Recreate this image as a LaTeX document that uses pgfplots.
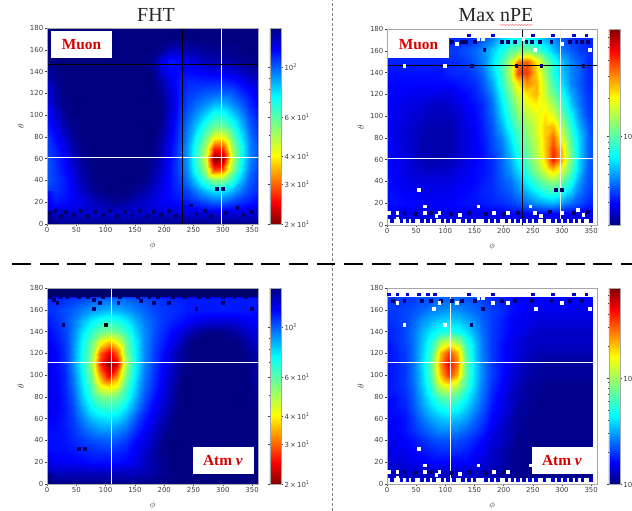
\documentclass[border=0pt]{standalone}
\usepackage{fontspec}
\setmainfont{DejaVu Sans}
\newfontfamily\tm{Liberation Serif}
\usepackage{pgfplots}
\pgfplotsset{compat=1.18}
\usetikzlibrary{decorations.pathmorphing}
\definecolor{jd}{rgb}{0,0,0.42}
\definecolor{jb}{rgb}{0,0,0.85}
\definecolor{tickc}{gray}{0.25}
\def\XE{mod(\coordindex,25)*15}
\def\YE{(18-floor(\coordindex/25))*10}
\pgfplotsset{
 colormap={jet}{rgb255(0cm)=(0,0,128); rgb255(11cm)=(0,0,255); rgb255(35cm)=(0,255,255); rgb255(65cm)=(255,255,0); rgb255(89cm)=(255,0,0); rgb255(100cm)=(128,0,0)},
 colormap={jetr}{rgb255(0cm)=(128,0,0); rgb255(11cm)=(255,0,0); rgb255(35cm)=(255,255,0); rgb255(65cm)=(0,255,255); rgb255(89cm)=(0,0,255); rgb255(100cm)=(0,0,128)},
 pan/.style={scale only axis,width=211bp,height=196bp,xmin=0,xmax=360,ymin=0,ymax=180,
  xtick={0,50,...,350},ytick={0,20,...,180},tick align=outside,tick pos=left,
  major tick length=2bp,axis on top,axis line style={gray!70,line width=0.7bp},
  tick style={tickc,line width=0.4bp},
  /pgf/number format/assume math mode=true,
  ticklabel style={font=\fontsize{7}{8}\selectfont,text=tickc,inner sep=1.5pt},
  xlabel={$\phi$},ylabel={$\theta$},label style={font=\fontsize{9}{10}\selectfont,text=tickc},
  xlabel style={yshift=-3pt},ylabel style={yshift=1pt},
  enlargelimits=false,clip=true},
 hm/.style={surf,shader=interp,mesh/cols=25,mesh/ordering=x varies,point meta={log10(\thisrowno{0})}},
 cell/.style={only marks,mark=square*,mark size=1.4bp,color=#1,mark options={solid,line width=0pt}},
 cb/.style={at={(1.056,0)},anchor=south west,width=11bp,scale only axis,tick align=outside,
  major tick length=2bp,minor tick length=1.2bp,axis line style={gray!70,line width=0.5bp},
  tick style={tickc,line width=0.3bp},
  yticklabel style={font=\fontsize{7}{8}\selectfont,text=tickc,inner sep=1.5pt}},
 cbF/.style={colormap name=jetr,point meta min=1.30103,point meta max=2.17609,colorbar,
  colorbar style={cb,ytick={1.30103,1.47712,1.60206,1.77815,2},
   yticklabels={2\,×\,10\textsuperscript{1},3\,×\,10\textsuperscript{1},4\,×\,10\textsuperscript{1},6\,×\,10\textsuperscript{1},10\textsuperscript{2}},
   minor ytick={1.69897,1.8451,1.90309,1.95424}}},
 cbN/.style={colormap name=jet,point meta min=#1,point meta max=1.845,colorbar,
  colorbar style={cb,ytick={0,1},yticklabels={10\textsuperscript{0},10\textsuperscript{1}},
   minor ytick={0.30103,0.47712,0.60206,0.69897,0.77815,0.8451,0.90309,0.95424,1.30103,1.47712,1.60206,1.69897,1.77815}}},
}
\begin{document}
\begin{tikzpicture}[x=1bp,y=1bp]
\path[use as bounding box] (0,0) rectangle (632,511);
\begin{axis}[pan,cbF,at={(47bp,287bp)},anchor=south west]
\addplot[hm] table[row sep=crcr,header=false,x expr=\XE,y expr=\YE]{
150\\150\\150\\150\\150\\150\\150\\150\\150\\150\\150\\150\\150\\150\\150\\150\\150\\150\\150\\150\\150\\150\\150\\150\\150\\
150\\150\\150\\150\\150\\150\\150\\150\\150\\150\\150\\150\\150\\150\\150\\150\\150\\150\\150\\150\\150\\150\\150\\150\\150\\
150\\150\\150\\150\\150\\150\\150\\150\\150\\150\\150\\150\\150\\145\\135\\135\\140\\142\\145\\146\\146\\148\\150\\150\\150\\
150\\150\\150\\150\\150\\150\\150\\150\\150\\150\\150\\150\\145\\125\\115\\118\\125\\130\\135\\138\\140\\142\\145\\148\\148\\
140\\148\\150\\150\\150\\150\\150\\150\\150\\150\\150\\150\\148\\130\\120\\118\\118\\120\\122\\125\\125\\128\\132\\138\\140\\
135\\145\\150\\150\\150\\150\\150\\150\\150\\150\\150\\150\\150\\140\\125\\115\\112\\112\\112\\112\\112\\115\\120\\128\\130\\
130\\142\\150\\150\\150\\150\\150\\150\\150\\150\\150\\150\\150\\145\\130\\115\\108\\105\\102\\100\\100\\102\\110\\118\\125\\
125\\140\\148\\150\\150\\150\\150\\150\\150\\150\\150\\150\\150\\148\\132\\115\\105\\98\\92\\85\\85\\92\\100\\112\\120\\
120\\132\\145\\150\\150\\150\\150\\150\\150\\150\\150\\150\\150\\148\\130\\112\\100\\90\\80\\70\\70\\80\\90\\105\\115\\
115\\125\\140\\148\\150\\150\\150\\150\\150\\150\\150\\150\\150\\145\\128\\110\\95\\82\\68\\58\\58\\68\\82\\100\\112\\
110\\120\\132\\145\\150\\150\\150\\150\\150\\150\\150\\150\\150\\142\\125\\108\\92\\74\\58\\42\\42\\58\\74\\95\\108\\
108\\115\\125\\140\\148\\150\\150\\150\\150\\150\\150\\150\\148\\138\\122\\105\\88\\68\\50\\27\\28\\50\\68\\92\\105\\
105\\112\\120\\135\\145\\150\\150\\150\\150\\150\\150\\150\\145\\135\\120\\105\\88\\66\\46\\20\\21\\46\\68\\92\\105\\
102\\110\\118\\128\\142\\148\\150\\150\\150\\150\\150\\150\\142\\132\\118\\105\\90\\70\\52\\28\\30\\52\\72\\95\\108\\
102\\108\\115\\125\\138\\148\\150\\150\\150\\150\\150\\148\\138\\128\\118\\108\\95\\80\\65\\54\\54\\66\\82\\100\\110\\
108\\110\\115\\122\\132\\142\\148\\150\\150\\150\\145\\140\\132\\125\\118\\112\\105\\95\\85\\78\\78\\85\\95\\105\\112\\
118\\115\\118\\122\\125\\132\\138\\142\\145\\142\\135\\132\\128\\122\\120\\118\\115\\110\\105\\100\\100\\105\\110\\115\\118\\
130\\130\\130\\130\\130\\130\\130\\130\\130\\130\\130\\130\\130\\130\\130\\128\\128\\128\\128\\128\\128\\128\\128\\128\\128\\
148\\148\\148\\148\\148\\148\\148\\148\\148\\148\\148\\148\\148\\148\\148\\148\\148\\148\\148\\148\\148\\148\\148\\148\\148\\
148\\148\\148\\148\\148\\148\\148\\148\\148\\148\\148\\148\\148\\148\\148\\148\\148\\148\\148\\148\\148\\148\\148\\148\\148\\
};
\addplot[cell=jd] coordinates {(5,10)(14,12)(24,7)(33,11)(46,8)(58,12)(70,7)(82,11)(95,8)(108,12)(120,7)(134,11)(146,8)(158,12)(170,7)(182,11)(195,8)(208,12)(220,7)(245,17)(255,9)(270,12)(280,7)(290,32)(300,32)(305,10)(325,15)(335,8)(350,11)};
\addplot[white,line width=1bp] coordinates {(297,0)(297,180)};
\addplot[white,line width=1bp] coordinates {(0,61.5)(360,61.5)};
\addplot[black,line width=1bp] coordinates {(232,0)(232,180)};
\addplot[black,line width=1bp] coordinates {(0,146.5)(360,146.5)};
\end{axis}
\begin{axis}[pan,cbN=0.30103,at={(387bp,286bp)},anchor=south west,width=210bp]
\addplot[hm] table[row sep=crcr,header=false,x expr=\XE,y expr=\YE]{
3.4\\3.4\\3.4\\3.4\\3.4\\3.4\\3.4\\3.4\\3.4\\3.4\\3.6\\4\\4.6\\6\\7\\7.5\\7.5\\6.5\\5.5\\4.8\\4\\3.5\\3.4\\3.3\\3.3\\
3.4\\3.4\\3.4\\3.4\\3.4\\3.4\\3.4\\3.4\\3.4\\3.4\\3.6\\4\\4.6\\6\\7\\7.5\\7.5\\6.5\\5.5\\4.8\\4\\3.5\\3.4\\3.3\\3.3\\
3.4\\3.4\\3.4\\3.4\\3.4\\3.4\\3.4\\3.6\\3.6\\3.9\\4.2\\4.8\\5.8\\7.5\\10\\12\\12\\10\\7.5\\5.8\\4.6\\4\\3.6\\3.4\\3.4\\
3.3\\3.3\\3.3\\3.3\\3.3\\3.3\\3.3\\3.4\\3.4\\3.6\\4\\4.6\\6.3\\9\\15\\32\\35\\22\\12\\8\\5.8\\4.6\\4\\3.4\\3.4\\
3.1\\3.1\\3.1\\3.1\\3.1\\3.1\\3.1\\3.3\\3.4\\3.4\\3.7\\4.3\\5.8\\8.5\\15\\38\\40\\24\\13\\8\\5.8\\4.6\\4\\3.4\\3.4\\
3\\3\\3\\3\\3\\3\\3\\3\\3.1\\3.3\\3.4\\4\\5.2\\8\\13\\22\\30\\26\\15\\9\\6.3\\4.6\\3.9\\3.4\\3.4\\
2.9\\2.9\\2.9\\2.8\\2.8\\2.8\\2.7\\2.7\\2.9\\3\\3.3\\3.7\\4.6\\7\\11\\17\\22\\26\\16\\11\\7.5\\5.2\\4.1\\3.5\\3.4\\
2.9\\2.8\\2.7\\2.7\\2.6\\2.5\\2.5\\2.5\\2.7\\2.9\\3.1\\3.4\\4.3\\6.3\\9.5\\14\\18\\21\\19\\14\\9\\5.8\\4.3\\3.6\\3.4\\
2.9\\2.8\\2.7\\2.6\\2.5\\2.4\\2.4\\2.4\\2.5\\2.8\\3\\3.4\\4.1\\5.8\\8.5\\12\\15\\18\\22\\18\\11\\7\\4.6\\3.7\\3.4\\
2.9\\2.7\\2.6\\2.5\\2.4\\2.3\\2.3\\2.3\\2.5\\2.7\\2.9\\3.3\\3.9\\5.2\\7.5\\10\\13\\17\\24\\26\\14\\8\\5.2\\4\\3.4\\
2.9\\2.7\\2.6\\2.5\\2.3\\2.3\\2.3\\2.3\\2.5\\2.7\\2.9\\3.2\\3.8\\4.6\\6.3\\9\\12\\16\\24\\34\\18\\9\\5.8\\4.1\\3.6\\
3\\2.8\\2.6\\2.5\\2.3\\2.3\\2.3\\2.3\\2.5\\2.7\\2.9\\3.1\\3.7\\4.3\\5.8\\8\\11\\15\\24\\40\\24\\10\\5.8\\4.1\\3.6\\
3\\2.8\\2.7\\2.5\\2.4\\2.3\\2.3\\2.4\\2.5\\2.7\\2.9\\3.1\\3.4\\4.1\\5.2\\7\\10\\14\\23\\44\\26\\11\\5.8\\4.1\\3.6\\
3\\2.9\\2.7\\2.6\\2.5\\2.5\\2.5\\2.5\\2.7\\2.8\\3\\3.1\\3.4\\4\\4.8\\6.1\\8.5\\12\\17\\23\\17\\9.5\\5.5\\4\\3.6\\
3.1\\2.9\\2.8\\2.7\\2.7\\2.7\\2.7\\2.7\\2.8\\2.9\\3\\3.2\\3.4\\3.9\\4.3\\5.2\\7\\9\\11.5\\13\\11\\7.5\\4.8\\3.9\\3.6\\
3.1\\3\\2.9\\2.9\\2.8\\2.8\\2.8\\2.8\\2.9\\3\\3.1\\3.3\\3.4\\3.7\\4\\4.6\\5.5\\6.6\\8\\8.5\\7.5\\5.8\\4.3\\3.7\\3.4\\
3.1\\3.1\\3\\3\\2.9\\2.9\\2.9\\2.9\\3\\3.1\\3.1\\3.2\\3.3\\3.4\\3.6\\3.9\\4.3\\4.8\\5.2\\5.5\\5\\4.3\\3.8\\3.4\\3.3\\
2.8\\2.8\\2.8\\2.8\\2.8\\2.8\\2.8\\2.8\\2.8\\2.8\\2.8\\2.8\\2.8\\2.8\\2.9\\2.9\\2.9\\2.9\\2.9\\2.9\\2.9\\2.9\\2.8\\2.8\\2.8\\
2.7\\2.7\\2.7\\2.7\\2.7\\2.7\\2.7\\2.7\\2.7\\2.7\\2.7\\2.7\\2.7\\2.7\\2.7\\2.7\\2.7\\2.7\\2.7\\2.7\\2.7\\2.7\\2.7\\2.7\\2.7\\
2.7\\2.7\\2.7\\2.7\\2.7\\2.7\\2.7\\2.7\\2.7\\2.7\\2.7\\2.7\\2.7\\2.7\\2.7\\2.7\\2.7\\2.7\\2.7\\2.7\\2.7\\2.7\\2.7\\2.7\\2.7\\
};
\addplot[fill=white,draw=none] coordinates {(0,172)(360,172)(360,180)(0,180)} --cycle;
\addplot[fill=white,draw=none] coordinates {(0,0)(360,0)(360,5.5)(0,5.5)} --cycle;
\addplot[fill=white,draw=none] coordinates {(353,0)(360,0)(360,180)(353,180)} --cycle;
\addplot[cell=jb] coordinates {(8,4)(25,4)(35,4)(45,4)(60,4)(70,4)(80,4)(95,4)(105,4)(115,4)(130,4)(140,4)(150,4)(170,4)(180,4)(190,4)(205,4)(215,4)(225,4)(235,4)(245,4)(255,4)(270,4)(285,4)(295,4)(305,4)(315,4)(325,4)(335,4)(350,4)(140,174)(182,174)(250,174)(285,174)(320,174)(342,174)};
\addplot[cell=jd] coordinates {(111,168)(128,168)(136,168)(151,168)(197,168)(208,168)(219,168)(239,168)(248,168)(262,168)(282,168)(314,168)(325,168)(334,168)(345,168)(167,161)(290,32)(300,32)(146,146)(222,146)(265,146)(337,146)(30,11)(50,10)(75,11)(110,10)(140,11)(170,10)(200,10)(225,11)(255,10)(280,12)(320,11)(345,12)};
\addplot[cell=white] coordinates {(30,146)(100,146)(55,32)(65,17)(65,11)(3,11)(18,11)(18,6)(90,11)(85,8)(125,9)(157,17)(183,11)(208,11)(246,17)(254,11)(264,8)(300,11)(327,14)(337,9)(120,166)(157,171)(165,171)(234,171)(254,161)(300,166)(348,161)};
\addplot[white!90!gray,line width=1bp] coordinates {(297,0)(297,180)};
\addplot[white,line width=1bp] coordinates {(0,61.5)(360,61.5)};
\addplot[black,line width=1bp] coordinates {(232,0)(232,180)};
\addplot[black,line width=1bp] coordinates {(0,146.5)(360,146.5)};
\end{axis}
\begin{axis}[pan,cbF,at={(47bp,27bp)},anchor=south west]
\addplot[hm] table[row sep=crcr,header=false,x expr=\XE,y expr=\YE]{
150\\150\\150\\150\\150\\150\\150\\150\\150\\150\\150\\150\\150\\150\\150\\150\\150\\150\\150\\150\\150\\150\\150\\150\\150\\
112\\112\\110\\108\\105\\102\\100\\98\\98\\100\\102\\105\\108\\110\\112\\114\\115\\115\\115\\115\\115\\115\\115\\115\\115\\
110\\108\\104\\100\\95\\90\\87\\85\\86\\90\\95\\100\\105\\108\\110\\112\\115\\115\\115\\115\\115\\115\\115\\115\\118\\
115\\110\\104\\96\\85\\76\\70\\68\\70\\76\\86\\95\\102\\108\\112\\116\\120\\125\\128\\128\\128\\128\\125\\122\\120\\
120\\114\\106\\94\\78\\66\\58\\55\\58\\66\\80\\92\\102\\110\\118\\125\\135\\142\\148\\148\\148\\145\\138\\130\\125\\
122\\116\\108\\92\\74\\58\\42\\36\\42\\58\\76\\92\\104\\112\\122\\132\\145\\150\\150\\150\\150\\150\\148\\138\\130\\
125\\120\\110\\92\\72\\55\\30\\24\\30\\55\\74\\92\\106\\116\\128\\140\\148\\150\\150\\150\\150\\150\\150\\145\\135\\
125\\120\\110\\92\\72\\52\\27\\20\\24\\50\\74\\92\\106\\118\\130\\142\\150\\150\\150\\150\\150\\150\\150\\148\\138\\
125\\120\\112\\95\\75\\56\\33\\24\\32\\55\\76\\95\\108\\120\\132\\145\\150\\150\\150\\150\\150\\150\\150\\148\\140\\
125\\122\\112\\98\\78\\62\\42\\38\\42\\62\\80\\98\\110\\122\\135\\148\\150\\150\\150\\150\\150\\150\\150\\150\\142\\
125\\122\\114\\102\\82\\68\\57\\55\\58\\68\\85\\102\\115\\125\\138\\150\\150\\150\\150\\150\\150\\150\\150\\150\\145\\
125\\122\\115\\105\\88\\75\\68\\66\\68\\78\\92\\108\\120\\130\\140\\150\\150\\150\\150\\150\\150\\150\\150\\150\\148\\
122\\120\\115\\108\\95\\85\\80\\78\\80\\88\\102\\115\\125\\135\\145\\150\\150\\150\\150\\150\\150\\150\\150\\150\\150\\
120\\118\\115\\110\\102\\95\\90\\90\\92\\98\\110\\120\\130\\140\\148\\150\\150\\150\\150\\150\\150\\150\\150\\150\\150\\
118\\118\\116\\112\\108\\104\\102\\100\\102\\108\\118\\125\\135\\145\\150\\150\\150\\150\\150\\150\\150\\150\\150\\150\\150\\
118\\118\\118\\116\\114\\112\\110\\110\\112\\115\\122\\130\\140\\148\\150\\150\\150\\150\\150\\150\\150\\150\\150\\150\\150\\
122\\122\\122\\122\\120\\118\\118\\118\\118\\120\\125\\132\\140\\145\\150\\150\\150\\150\\150\\150\\150\\150\\150\\150\\150\\
135\\135\\135\\135\\135\\135\\135\\135\\135\\135\\135\\138\\140\\145\\148\\150\\150\\150\\150\\150\\150\\150\\150\\150\\150\\
148\\148\\148\\148\\148\\148\\148\\148\\148\\148\\148\\148\\148\\148\\150\\150\\150\\150\\150\\150\\150\\150\\150\\150\\150\\
148\\148\\148\\148\\148\\148\\148\\148\\148\\148\\148\\148\\148\\148\\150\\150\\150\\150\\150\\150\\150\\150\\150\\150\\150\\
};
\addplot[fill=jd,draw=none] coordinates {(0,172)(360,172)(360,180)(0,180)} --cycle;
\addplot[cell=jd] coordinates {(5,172)(12,169)(18,166)(23,172)(35,172)(55,172)(70,172)(80,169)(90,166)(95,172)(125,172)(122,166)(160,168)(155,172)(183,166)(175,172)(190,172)(208,166)(215,172)(235,172)(260,172)(275,172)(300,166)(300,172)(320,172)(340,172)(80,161)(55,32)(65,32)(255,161)(350,161)(28,146)};
\addplot[cell=black] coordinates {(100,146)};
\addplot[white,line width=1bp] coordinates {(110,0)(110,180)};
\addplot[white,line width=1bp] coordinates {(0,111.5)(360,111.5)};
\end{axis}
\begin{axis}[pan,cbN=0,at={(387bp,27bp)},anchor=south west,width=210bp]
\addplot[hm] table[row sep=crcr,header=false,x expr=\XE,y expr=\YE]{
2\\2\\2\\2\\2.2\\2.2\\2.4\\2.4\\2.4\\2.2\\2.2\\2\\1.9\\1.8\\1.7\\1.6\\1.6\\1.6\\1.6\\1.6\\1.6\\1.6\\1.6\\1.6\\1.6\\
2\\2\\2\\2\\2.2\\2.2\\2.4\\2.4\\2.4\\2.2\\2.2\\2\\1.9\\1.8\\1.7\\1.6\\1.6\\1.6\\1.6\\1.6\\1.6\\1.6\\1.6\\1.6\\1.6\\
2\\2\\2.1\\2.2\\2.4\\2.7\\2.8\\2.9\\2.8\\2.6\\2.4\\2.2\\2\\1.9\\1.7\\1.6\\1.5\\1.5\\1.5\\1.5\\1.5\\1.5\\1.5\\1.5\\1.5\\
1.9\\2\\2.1\\2.4\\2.9\\3.3\\3.7\\3.8\\3.6\\3.2\\2.7\\2.3\\2\\1.8\\1.6\\1.5\\1.5\\1.4\\1.4\\1.4\\1.4\\1.4\\1.4\\1.4\\1.4\\
1.8\\1.9\\2.1\\2.5\\3.3\\4.2\\5\\5.2\\4.8\\4\\3.1\\2.4\\2\\1.8\\1.6\\1.5\\1.4\\1.3\\1.3\\1.3\\1.3\\1.3\\1.3\\1.3\\1.3\\
1.8\\1.9\\2.1\\2.5\\3.5\\5.2\\10\\13\\10\\5.2\\3.5\\2.5\\2\\1.7\\1.5\\1.4\\1.3\\1.3\\1.3\\1.3\\1.3\\1.3\\1.3\\1.3\\1.3\\
1.7\\1.8\\2\\2.5\\3.6\\6\\20\\34\\22\\6.5\\3.6\\2.5\\2\\1.7\\1.5\\1.4\\1.3\\1.2\\1.2\\1.2\\1.2\\1.2\\1.2\\1.2\\1.2\\
1.7\\1.8\\2\\2.5\\3.8\\7\\24\\45\\28\\7\\3.8\\2.6\\2\\1.7\\1.5\\1.3\\1.2\\1.15\\1.1\\1.1\\1.1\\1.1\\1.1\\1.1\\1.1\\
1.7\\1.8\\2\\2.5\\3.7\\6.5\\20\\36\\22\\7\\3.8\\2.6\\2\\1.7\\1.4\\1.3\\1.2\\1.1\\1.1\\1.1\\1.1\\1.1\\1.1\\1.1\\1.1\\
1.7\\1.8\\2\\2.4\\3.5\\5.5\\12\\15\\11\\6\\3.6\\2.5\\1.9\\1.6\\1.4\\1.2\\1.1\\1.1\\1.05\\1.05\\1.05\\1.05\\1.05\\1.05\\1.05\\
1.7\\1.7\\1.9\\2.3\\3.2\\4.5\\6.5\\7.5\\6.5\\4.5\\3.2\\2.4\\1.8\\1.5\\1.3\\1.2\\1.1\\1.05\\1.05\\1.05\\1.05\\1.05\\1.05\\1.05\\1.05\\
1.6\\1.7\\1.8\\2.2\\2.9\\3.7\\4.5\\5\\4.5\\3.7\\2.8\\2.2\\1.7\\1.5\\1.3\\1.1\\1.1\\1.05\\1.05\\1.05\\1.05\\1.05\\1.05\\1.05\\1.05\\
1.6\\1.6\\1.7\\2\\2.5\\3\\3.4\\3.6\\3.4\\3\\2.4\\2\\1.6\\1.4\\1.2\\1.1\\1.05\\1.05\\1.05\\1.05\\1.05\\1.05\\1.05\\1.05\\1.05\\
1.5\\1.6\\1.7\\1.9\\2.2\\2.5\\2.8\\2.8\\2.7\\2.4\\2.1\\1.8\\1.5\\1.3\\1.2\\1.1\\1.05\\1.05\\1.05\\1.05\\1.05\\1.05\\1.05\\1.05\\1.05\\
1.5\\1.5\\1.6\\1.7\\1.9\\2.1\\2.2\\2.2\\2.2\\2\\1.8\\1.6\\1.4\\1.3\\1.15\\1.05\\1.05\\1.05\\1.05\\1.05\\1.05\\1.05\\1.05\\1.05\\1.05\\
1.4\\1.5\\1.5\\1.6\\1.7\\1.8\\1.9\\1.9\\1.9\\1.8\\1.6\\1.5\\1.3\\1.2\\1.1\\1.05\\1.05\\1.05\\1.05\\1.05\\1.05\\1.05\\1.05\\1.05\\1.05\\
1.4\\1.4\\1.4\\1.5\\1.5\\1.6\\1.6\\1.6\\1.6\\1.6\\1.5\\1.4\\1.3\\1.2\\1.1\\1.05\\1.05\\1.05\\1.05\\1.05\\1.05\\1.05\\1.05\\1.05\\1.05\\
1.3\\1.3\\1.3\\1.3\\1.3\\1.3\\1.3\\1.3\\1.3\\1.3\\1.3\\1.25\\1.2\\1.15\\1.1\\1.05\\1.05\\1.05\\1.05\\1.05\\1.05\\1.05\\1.05\\1.05\\1.05\\
1.3\\1.3\\1.3\\1.3\\1.3\\1.3\\1.3\\1.3\\1.3\\1.3\\1.3\\1.25\\1.2\\1.15\\1.1\\1.05\\1.05\\1.05\\1.05\\1.05\\1.05\\1.05\\1.05\\1.05\\1.05\\
1.3\\1.3\\1.3\\1.3\\1.3\\1.3\\1.3\\1.3\\1.3\\1.3\\1.3\\1.25\\1.2\\1.15\\1.1\\1.05\\1.05\\1.05\\1.05\\1.05\\1.05\\1.05\\1.05\\1.05\\1.05\\
};
\addplot[fill=white,draw=none] coordinates {(0,172)(360,172)(360,180)(0,180)} --cycle;
\addplot[fill=white,draw=none] coordinates {(0,0)(360,0)(360,5.5)(0,5.5)} --cycle;
\addplot[fill=white,draw=none] coordinates {(353,0)(360,0)(360,180)(353,180)} --cycle;
\addplot[cell=jb] coordinates {(8,4)(25,4)(35,4)(45,4)(60,4)(70,4)(80,4)(95,4)(105,4)(115,4)(130,4)(140,4)(150,4)(170,4)(180,4)(190,4)(205,4)(215,4)(225,4)(235,4)(245,4)(255,4)(270,4)(285,4)(295,4)(305,4)(315,4)(325,4)(335,4)(350,4)(4,174)(18,174)(35,174)(55,174)(70,174)(82,174)(140,174)(182,174)(250,174)(285,174)(320,174)(342,174)};
\addplot[cell=jd] coordinates {(10,168)(30,168)(60,168)(75,168)(92,168)(111,168)(128,168)(151,168)(165,161)(197,168)(219,168)(248,168)(282,168)(314,168)(334,168)(145,146)(30,11)(50,10)(75,11)(110,10)(140,11)(170,10)(200,10)(255,10)(320,11)};
\addplot[cell=white] coordinates {(30,146)(100,146)(55,32)(65,17)(65,11)(3,11)(18,11)(18,6)(90,11)(85,8)(125,9)(157,17)(183,11)(208,11)(246,17)(120,166)(18,166)(90,166)(157,171)(165,171)(182,166)(208,166)(255,161)(80,161)(300,166)(348,161)};
\addplot[white,line width=1bp] coordinates {(109,0)(109,180)};
\addplot[white,line width=1bp] coordinates {(0,111.5)(360,111.5)};
\end{axis}
\newcommand\lab[3]{\node[fill=white,text=red!85!black,font=\tm\bfseries\fontsize{15.4}{16}\selectfont,minimum width=61bp,minimum height=27bp,inner sep=0pt] at (#1,#2) {#3};}
\lab{81.5}{466.5}{Muon}
\lab{418.5}{466}{Muon}
\lab{223}{50.5}{Atm \textit{ν}}
\lab{562}{50.5}{Atm \textit{ν}}
\node[font=\tm\fontsize{20}{22}\selectfont,text=black!85] at (156,496) {FHT};
\node[font=\tm\fontsize{20}{22}\selectfont,text=black!85] at (496,496) {Max nPE};
\draw[red!70,line width=0.4bp,decorate,decoration={snake,amplitude=0.5bp,segment length=3bp}] (500,486) -- (533,486);
\draw[gray,line width=0.6bp,dash pattern=on 3bp off 2bp] (332.5,0) -- (332.5,511);
\draw[black,line width=2.6bp,dash pattern=on 19bp off 8.7bp] (12,247) -- (335,247);
\draw[black,line width=2.6bp,dash pattern=on 19bp off 8.7bp] (344,247) -- (632,247);
\end{tikzpicture}
\end{document}
